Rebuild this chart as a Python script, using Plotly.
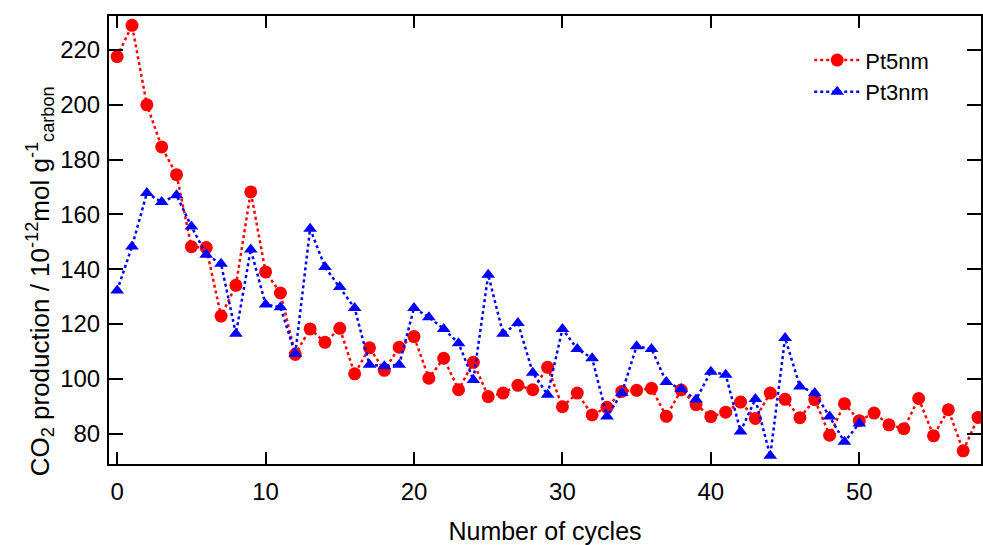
import plotly.graph_objects as go

# Cycle index for each series
cycles_pt5 = list(range(0, 59))
cycles_pt3 = list(range(0, 51))

# CO2 production per cycle (10^-12 mol g^-1 carbon)
pt5nm = [217.6, 229.0, 200.0, 184.6, 174.5, 148.2, 147.9, 122.9, 134.1, 168.2,
         139.0, 131.3, 108.9, 118.2, 113.3, 118.4, 101.8, 111.3, 103.1, 111.5,
         115.4, 100.2, 107.5, 96.0, 106.0, 93.5, 94.8, 97.6, 96.0, 104.2,
         89.8, 94.8, 86.8, 89.6, 95.4, 95.8, 96.5, 86.3, 95.9, 90.6,
         86.2, 87.8, 91.5, 85.5, 94.8, 92.5, 85.8, 92.4, 79.4, 90.9,
         84.7, 87.5, 83.2, 81.8, 92.8, 79.2, 88.7, 73.7, 85.9]

pt3nm = [132.2, 148.3, 167.8, 164.5, 167.0, 155.6, 145.3, 142.0, 116.4, 147.2,
         127.1, 126.1, 109.1, 154.8, 140.8, 133.5, 125.8, 105.1, 104.6, 105.1,
         125.8, 122.5, 118.2, 113.0, 99.6, 138.0, 116.4, 120.4, 102.2, 94.2,
         118.2, 110.9, 107.5, 86.2, 94.8, 111.9, 110.9, 98.8, 96.3, 92.4,
         102.6, 101.5, 80.8, 92.6, 71.9, 114.9, 97.2, 94.8, 86.2, 77.0,
         83.7]

x_ticks = [0, 10, 20, 30, 40, 50]
y_ticks = [80, 100, 120, 140, 160, 180, 200, 220]

FONT = "Liberation Sans, Arial, sans-serif"
FS = 24

fig = go.Figure()
fig.add_trace(go.Scatter(
    x=cycles_pt5, y=pt5nm, name="Pt5nm", mode="lines+markers",
    line=dict(color="#ff0000", width=2.5, dash="dot"),
    marker=dict(symbol="circle", size=13, color="#ff0000"),
))
fig.add_trace(go.Scatter(
    x=cycles_pt3, y=pt3nm, name="Pt3nm", mode="lines+markers",
    line=dict(color="#0000ff", width=2.5, dash="dot"),
    marker=dict(symbol="triangle-up", size=12, color="#0000ff"),
))

axis_common = dict(
    showline=True, linecolor="black", linewidth=2, mirror="ticks",
    ticks="inside", tickwidth=2, tickcolor="black",
    showgrid=False, zeroline=False,
    tickfont=dict(family=FONT, size=FS, color="black"),
)

fig.update_xaxes(
    range=[-0.55, 58.2], tickvals=x_ticks, ticklen=12,
    ticklabelstandoff=5,
    title=dict(text="Number of cycles", font=dict(family=FONT, size=25, color="black"),
               standoff=19),
    **axis_common,
)
fig.update_yaxes(
    range=[68.9, 232.4], tickvals=y_ticks, ticklen=14,
    ticklabelstandoff=2,
    **axis_common,
)

# Y-axis label placed as a rotated paper annotation
fig.add_annotation(
    text="CO<sub>2</sub> production / 10<sup>-12</sup>mol g<sup>-1</sup><sub>carbon</sub>",
    xref="paper", yref="paper", x=-0.0795, y=0.407,
    xanchor="center", yanchor="middle", textangle=-90, showarrow=False,
    font=dict(family=FONT, size=26, color="black"),
)

fig.update_layout(
    width=983, height=545,
    margin=dict(l=109, r=0, t=16, b=81),
    plot_bgcolor="white", paper_bgcolor="white",
    font=dict(family=FONT, size=FS, color="black"),
    legend=dict(x=0.803, y=0.948, xanchor="left", yanchor="top", itemwidth=46,
                bgcolor="rgba(0,0,0,0)", font=dict(family=FONT, size=22)),
)

fig.write_html("out.html")
